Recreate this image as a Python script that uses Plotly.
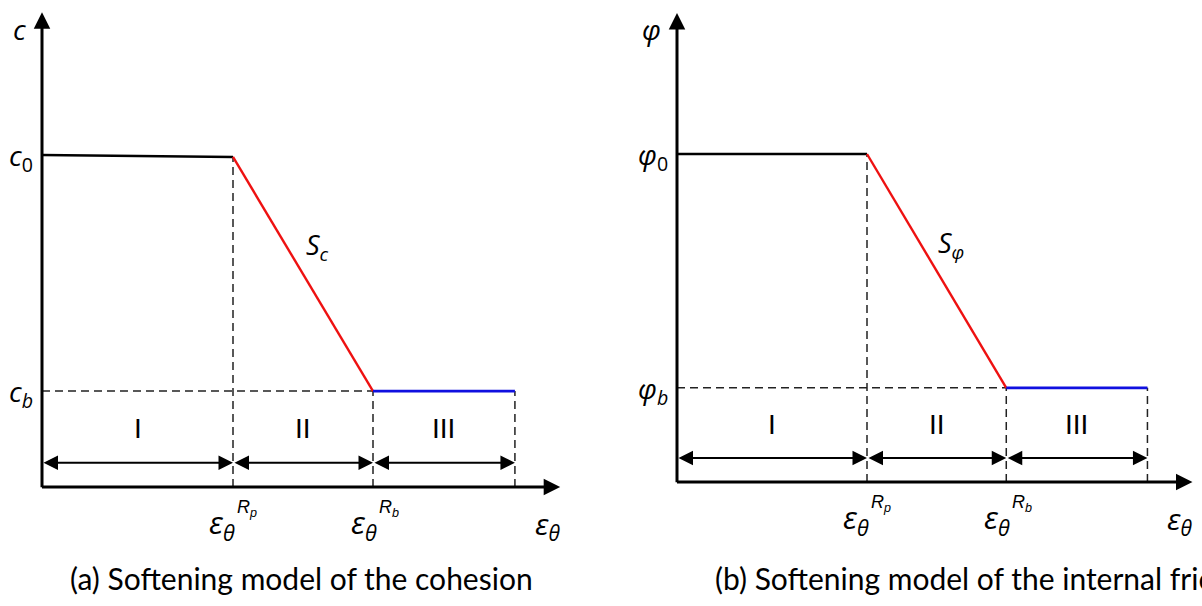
import plotly.graph_objects as go

# ---------------- data (schematic values) ----------------
strain_pts = [0.0, 1.0, 1.733, 2.476]        # 0, eps_theta^Rp, eps_theta^Rb, end of zone III
cohesion = [1.0, 0.994, 0.289, 0.289]         # c0 ... cb
friction = [1.0, 1.0, 0.287, 0.287]           # phi0 ... phib
zone_labels = ["I", "II", "III"]
captions = ["(a) Softening model of the cohesion",
            "(b) Softening model of the internal friction angle"]

AXIS_X_END = 2.713
AXIS_Y_END = 1.43
ARROW_LEVEL = 0.073
ZONE_TEXT_LEVEL = 0.176

MATH_FONT = "Open Sans"
CAP_FONT = "Lato"

fig = go.Figure()

panels = [
    dict(x="x", y="y", vals=cohesion, sym="c", sub0="0", subb="<i>b</i>", S="S<sub>c</sub>"),
    dict(x="x2", y="y2", vals=friction, sym="φ", sub0="0", subb="<i>b</i>", S="S<sub>φ</sub>"),
]

ann = []
DASH = dict(color="#222222", width=1.5, dash="8px,5px")

for p in panels:
    xs, v = strain_pts, p["vals"]
    xr, yr = p["x"], p["y"]
    # dashed guide lines
    fig.add_trace(go.Scatter(x=[0, xs[2]], y=[v[2], v[2]], mode="lines", line=DASH,
                             xaxis=xr, yaxis=yr, showlegend=False, hoverinfo="skip"))
    for i in (1, 2, 3):
        fig.add_trace(go.Scatter(x=[xs[i], xs[i]], y=[0, v[i]], mode="lines", line=DASH,
                                 xaxis=xr, yaxis=yr, showlegend=False, hoverinfo="skip"))
    # model curve: elastic (black), softening (red), residual (blue)
    fig.add_trace(go.Scatter(x=xs[0:2], y=v[0:2], mode="lines", line=dict(color="black", width=2.6),
                             xaxis=xr, yaxis=yr, showlegend=False, hoverinfo="skip"))
    fig.add_trace(go.Scatter(x=xs[1:3], y=v[1:3], mode="lines", line=dict(color="#ee1111", width=2.4),
                             xaxis=xr, yaxis=yr, showlegend=False, hoverinfo="skip"))
    fig.add_trace(go.Scatter(x=xs[2:4], y=v[2:4], mode="lines", line=dict(color="#1010e0", width=2.8),
                             xaxis=xr, yaxis=yr, showlegend=False, hoverinfo="skip"))

    # axes with arrows
    ann.append(dict(x=AXIS_X_END, y=0, ax=-0.008, ay=0, xref=xr, yref=yr, axref=xr, ayref=yr,
                    text="", showarrow=True, arrowhead=2, arrowsize=1.1, arrowwidth=3,
                    arrowcolor="black", standoff=0))
    ann.append(dict(x=0, y=AXIS_Y_END, ax=0, ay=-0.005, xref=xr, yref=yr, axref=xr, ayref=yr,
                    text="", showarrow=True, arrowhead=2, arrowsize=1.1, arrowwidth=3,
                    arrowcolor="black", standoff=0))
    # zone double arrows + labels
    for i in range(3):
        ann.append(dict(x=xs[i + 1], y=ARROW_LEVEL, ax=xs[i], ay=ARROW_LEVEL,
                        xref=xr, yref=yr, axref=xr, ayref=yr, text="", showarrow=True,
                        arrowside="end+start", arrowhead=2, startarrowhead=2,
                        arrowsize=1.45, startarrowsize=1.45, arrowwidth=2,
                        arrowcolor="black", standoff=0, startstandoff=0))
        ann.append(dict(x=(xs[i] + xs[i + 1]) / 2, y=ZONE_TEXT_LEVEL, xref=xr, yref=yr,
                        text=zone_labels[i], showarrow=False,
                        font=dict(family="Liberation Sans", size=28, color="black")))
    # y labels
    mf = dict(family=MATH_FONT, size=28, color="black")
    ann.append(dict(x=0, y=1.38, xref=xr, yref=yr, xanchor="right", xshift=-14,
                    text=f"<i>{p['sym']}</i>", showarrow=False, font=mf))
    ann.append(dict(x=0, y=v[0], xref=xr, yref=yr, xanchor="right", xshift=-7, yshift=-2,
                    text=f"<i>{p['sym']}</i><sub>{p['sub0']}</sub>", showarrow=False, font=mf))
    ann.append(dict(x=0, y=v[2], xref=xr, yref=yr, xanchor="right", xshift=-7, yshift=-2,
                    text=f"<i>{p['sym']}</i><sub>{p['subb']}</sub>", showarrow=False, font=mf))
    # softening slope label
    ann.append(dict(x=1.44, y=0.725, xref=xr, yref=yr, text=f"<i>{p['S']}</i>",
                    showarrow=False, font=dict(family=MATH_FONT, size=27, color="black")))
    # x labels
    for xv, sup, dx in ((xs[1], "p", -8), (xs[2], "b", -6)):
        ann.append(dict(x=xv, y=0, xref=xr, yref=yr, xanchor="right", yanchor="top",
                        xshift=dx + 12, yshift=-12, text="<i>ε</i><sub><i>θ</i></sub>",
                        showarrow=False, font=dict(family=MATH_FONT, size=31, color="black")))
        ann.append(dict(x=xv, y=0, xref=xr, yref=yr, xanchor="left", yanchor="top",
                        xshift=dx + 10, yshift=-8, text=f"<i>R<sub>{sup}</sub></i>",
                        showarrow=False, font=dict(family="Liberation Sans", size=18, color="black")))
    ann.append(dict(x=AXIS_X_END, y=0, xref=xr, yref=yr, xanchor="right", yanchor="top",
                    xshift=2, yshift=-14, text="<i>ε</i><sub><i>θ</i></sub>",
                    showarrow=False, font=dict(family=MATH_FONT, size=30, color="black")))

# captions
ann.append(dict(x=301 / 1202, y=1 - 578 / 606, xref="paper", yref="paper", xanchor="center",
                yanchor="middle", text=captions[0], showarrow=False,
                font=dict(family=CAP_FONT, size=30, color="black")))
ann.append(dict(x=713 / 1202, y=1 - 578 / 606, xref="paper", yref="paper", xanchor="left",
                yanchor="middle", text=captions[1], showarrow=False,
                font=dict(family=CAP_FONT, size=30, color="black")))

ax_common = dict(visible=False, showgrid=False, zeroline=False, fixedrange=True)
fig.update_layout(
    width=1202, height=606,
    margin=dict(l=0, r=0, t=0, b=0),
    paper_bgcolor="white", plot_bgcolor="white",
    showlegend=False,
    xaxis=dict(domain=[0, 0.5], range=[-42 / 191, 559 / 191], **ax_common),
    yaxis=dict(domain=[0, 1], range=[-119 / 332, 487 / 332], **ax_common),
    xaxis2=dict(domain=[0.5, 1], range=[-76 / 190, 525 / 190], **ax_common),
    yaxis2=dict(domain=[0, 1], anchor="x2", range=[-124 / 328, 482 / 328], **ax_common),
    annotations=ann,
)

fig.write_html("out.html", config={"displayModeBar": False},
               post_script="document.body.style.margin='0';document.body.style.overflow='hidden';")
